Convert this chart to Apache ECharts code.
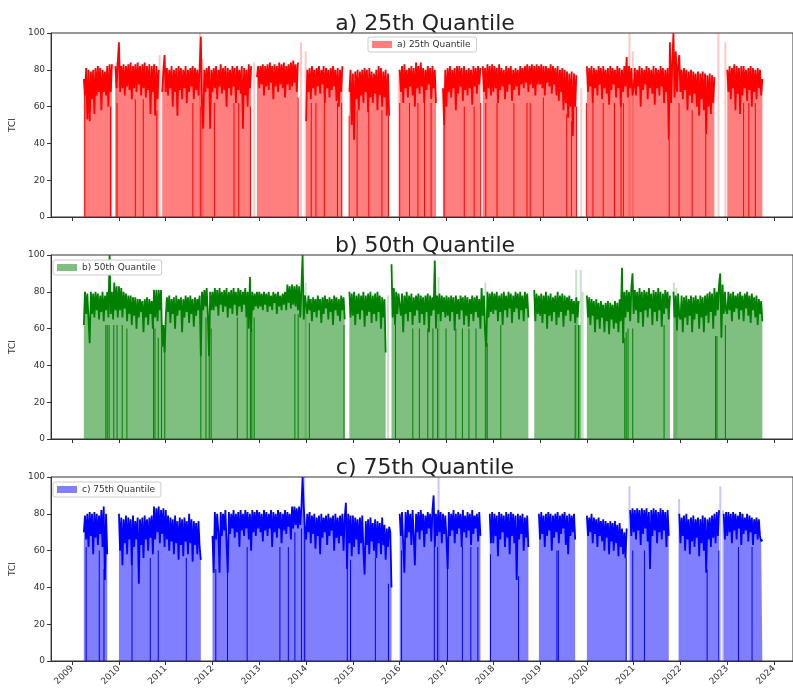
<!DOCTYPE html>
<html><head><meta charset="utf-8">
<script src="https://cdn.jsdelivr.net/npm/echarts@6/dist/echarts.min.js"></script>
<style>html,body{margin:0;padding:0;background:#fff}#c{width:793px;height:691px}</style>
</head><body><div id="c"></div>
<script>
// sample date of value i = START_YEAR + i*STEP (fractional years); rows = one calendar year
const START_YEAR = 2009.25;
const STEP = 0.025;
const yearTicks = [2009,2010,2011,2012,2013,2014,2015,2016,2017,2018,2019,2020,2021,2022,2023,2024];
const titles = ['a) 25th Quantile','b) 50th Quantile','c) 75th Quantile'];

const q25 = [
 75,66,81,53,80,52,79,64,80,56,81,66,82,68,81,58,80,68,79,66,82,60,83,68,83,null,null,82,70,84,
 95,68,82,70,83,66,82,71,83,69,84,64,82,70,83,68,84,72,82,66,83,70,84,65,82,69,83,56,82,68,83,55,82,64,80,null,null,68,80,88,
 68,81,66,80,70,82,60,80,68,81,55,82,69,81,64,80,70,82,62,80,68,81,71,82,64,81,69,80,66,81,98,62,48,80,68,81,70,82,48,80,
 68,81,70,82,64,80,71,83,67,81,69,82,60,81,70,80,66,82,71,81,62,82,69,80,67,82,48,81,66,80,60,83,70,82,null,null,null,null,76,82,
 70,82,72,83,66,82,71,83,69,84,73,82,64,83,71,82,68,84,72,83,70,84,65,82,72,83,69,84,71,85,73,83,68,84,null,null,null,null,null,null,
 52,80,68,81,64,82,70,80,66,81,71,82,67,80,72,82,62,81,70,80,65,81,69,82,71,80,63,81,60,80,68,82,null,null,null,null,null,68,80,50,
 78,42,79,64,80,58,79,66,80,62,81,68,80,57,81,65,79,62,78,67,80,58,82,66,81,60,79,65,80,55,78,55,null,null,null,null,null,null,null,null,
 80,68,82,62,83,70,80,65,81,71,82,66,81,60,84,70,82,67,84,71,81,62,80,69,82,72,81,64,82,70,80,62,null,null,null,null,null,70,50,80,
 60,81,68,82,65,80,70,81,58,82,67,82,71,81,63,82,69,80,66,81,70,80,61,82,71,81,67,82,72,81,null,82,68,81,64,83,70,82,66,83,
 68,82,70,81,62,83,69,81,71,80,64,82,68,81,72,82,63,80,69,81,71,80,66,82,72,81,70,82,73,83,68,82,72,83,70,82,66,83,72,82,
 72,83,70,82,66,82,73,81,71,83,67,82,72,81,66,82,63,80,68,81,58,80,62,79,54,78,60,79,44,78,60,77,null,null,null,null,null,null,null,null,
 82,68,81,71,82,62,81,70,80,66,82,72,81,64,82,70,80,67,81,61,82,69,81,72,80,65,82,70,81,60,80,68,82,71,87,65,82,70,81,66,
 70,81,66,80,71,82,60,81,69,80,72,82,64,81,70,80,67,82,61,81,70,80,66,82,71,81,62,80,68,81,42,95,62,84,100,65,90,68,82,88,
 68,80,64,81,69,80,58,79,66,80,62,79,67,78,60,79,55,78,64,79,58,78,45,77,60,78,56,77,62,76,null,null,null,null,null,null,null,null,null,null,
 80,68,82,64,81,70,83,58,82,67,81,56,82,66,82,70,80,63,81,69,82,60,81,68,80,64,81,70,80,66,75
];
const q50 = [
 62,80,68,79,65,52,80,68,79,66,80,70,79,65,78,69,80,64,78,70,80,66,100,68,80,65,85,70,83,66,
 83,70,82,66,80,71,79,64,78,68,78,62,77,67,77,60,76,66,76,69,75,58,76,66,77,62,76,68,75,60,81,66,81,64,81,70,81,50,62,47,
 66,77,69,78,63,76,68,77,60,78,67,76,70,77,58,76,66,78,69,77,63,78,68,76,61,77,67,76,70,78,45,80,70,81,72,82,68,45,80,70,
 80,70,82,72,81,67,82,73,80,69,81,72,82,66,80,71,81,68,82,73,80,67,82,72,81,69,80,73,82,66,80,60,88,58,80,70,79,72,80,71,
 80,72,79,70,80,73,79,69,80,72,78,70,80,74,79,68,80,72,78,70,79,73,80,70,84,74,83,71,84,73,83,72,84,70,83,66,82,100,65,78,
 77,68,78,70,76,64,77,69,76,66,78,70,76,63,77,68,78,71,76,65,77,69,76,62,78,70,77,67,76,64,78,70,77,65,null,null,null,80,66,79,
 67,80,62,78,68,79,65,78,70,80,61,78,67,79,69,80,63,78,68,79,64,80,69,78,60,77,66,76,47,null,null,null,null,95,66,82,62,80,68,79,
 80,67,79,58,78,68,80,64,78,69,79,62,77,67,78,70,79,63,78,68,77,62,78,69,79,58,78,67,77,70,97,60,78,68,79,64,78,69,77,66,
 78,67,77,64,78,69,77,59,78,68,76,65,78,70,77,62,78,67,77,61,76,68,78,64,77,69,78,66,76,60,82,67,78,58,50,80,66,79,69,80,
 68,79,70,80,64,78,69,79,62,80,70,78,66,80,71,79,63,78,69,80,71,79,65,80,70,78,64,80,71,79,66,null,null,null,null,81,64,79,68,78,
 67,79,63,78,68,80,60,78,67,79,64,77,69,78,62,80,66,78,69,79,61,78,67,77,70,78,64,76,68,75,63,77,66,75,null,null,null,null,null,null,
 78,66,77,62,76,67,75,58,76,65,74,60,75,66,73,58,74,64,75,57,74,65,73,60,75,63,74,58,76,64,93,52,80,66,81,69,80,64,82,90,
 68,81,70,80,63,82,69,80,61,81,70,80,66,82,71,79,62,81,69,80,64,82,70,80,61,79,68,81,71,80,65,78,null,null,80,66,78,59,79,67,
 65,78,58,77,66,78,62,76,67,78,58,77,65,78,68,76,60,78,66,77,58,78,67,79,63,80,69,79,60,82,67,80,70,84,90,55,84,68,80,70,
 68,80,70,79,64,80,69,78,71,79,65,80,70,78,64,79,71,80,67,78,63,79,70,77,66,78,62,76,68,75,64
];
const q75 = [
 70,79,66,80,62,81,68,80,58,81,67,80,63,79,69,82,62,84,44,80,58,null,null,null,null,null,null,null,null,null,
 80,60,78,52,77,64,79,58,78,66,77,52,79,62,76,66,78,42,77,63,78,56,79,66,77,60,78,67,79,58,84,66,83,70,84,64,82,69,83,62,
 82,66,79,60,78,65,77,58,79,64,76,55,78,63,77,57,78,65,76,58,80,64,77,54,76,63,75,58,76,62,55,null,null,null,null,null,null,null,null,null,
 68,48,81,66,80,70,48,81,68,80,71,82,64,48,81,69,80,72,82,67,80,70,81,62,82,71,80,68,82,72,81,66,80,60,82,70,81,68,82,72,
 81,70,80,65,82,71,81,68,80,72,82,62,81,70,80,67,82,72,81,64,80,71,82,69,81,73,80,66,84,72,84,74,83,72,84,74,84,100,84,72,
 66,80,70,81,64,79,69,80,61,78,68,79,58,80,67,78,70,79,63,80,68,78,71,79,60,80,67,78,64,79,68,80,60,78,86,50,80,64,79,57,
 79,62,78,66,77,58,78,64,79,60,47,76,63,77,58,78,65,75,60,77,56,76,64,75,58,78,63,74,55,72,62,73,70,40,null,null,null,null,null,null,
 80,68,81,64,48,81,67,82,70,80,63,82,68,52,80,70,81,66,82,71,80,62,79,69,81,72,80,65,82,90,62,80,68,82,70,81,64,80,69,79,
 66,50,81,68,80,71,82,64,80,69,81,72,80,62,82,70,79,67,81,71,80,63,82,69,79,72,80,65,81,68,null,null,null,null,null,null,null,80,64,81,
 64,80,68,79,57,81,66,80,70,79,62,81,67,80,58,81,68,80,64,79,44,80,66,79,69,80,60,78,67,79,62,null,null,null,null,null,null,null,null,80,
 66,81,69,79,62,80,68,81,71,80,60,79,67,80,70,81,64,79,69,80,72,81,63,79,58,80,68,79,70,80,66,null,null,null,null,null,null,null,null,null,
 79,68,78,70,80,64,78,69,77,62,78,68,76,65,77,60,76,67,75,58,76,65,75,60,76,64,74,57,75,62,72,58,70,56,72,null,null,82,68,83,
 70,82,66,83,71,82,63,83,69,82,72,83,65,81,50,82,68,83,71,82,64,81,70,83,66,82,71,81,62,82,68,null,null,null,null,null,null,null,null,80,
 64,78,68,79,60,80,66,77,58,78,65,79,62,77,67,78,57,77,64,79,60,78,48,77,66,78,62,79,67,80,64,81,68,82,null,null,null,80,66,81,
 68,81,70,80,64,81,71,80,66,79,72,81,63,80,69,78,71,80,65,79,70,78,63,77,69,78,66,77,68,65,66
];

// single-day drops to zero: [year, level]
const drops25 = [[2009.27,75],[2009.82,60],[2009.96,62],[2010.35,64],[2010.52,64],[2010.81,58],[2011.58,62],[2011.75,60],[2012.04,62],[2012.46,62],[2012.56,62],[2012.81,60],[2013.83,65],[2014.11,62],[2014.21,62],[2014.39,62],[2014.67,62],[2014.76,62],[2014.92,55],[2015.09,58],[2015.34,58],[2015.62,58],[2015.76,55],[2016.0,62],[2016.21,62],[2016.39,62],[2016.53,62],[2016.67,62],[2016.95,50],[2017.38,60],[2017.59,60],[2017.73,62],[2017.84,62],[2018.08,62],[2018.44,62],[2018.72,62],[2018.79,62],[2019.07,65],[2019.57,56],[2019.67,52],[2019.78,60],[2019.99,62],[2020.13,62],[2020.35,62],[2020.59,62],[2020.73,62],[2020.78,62],[2021.76,42],[2021.97,62],[2022.25,58],[2022.54,45],[2023.35,62],[2023.46,62],[2023.6,62]];
const drops50 = [[2009.72,62],[2009.75,62],[2009.79,62],[2009.89,62],[2009.96,62],[2010.07,62],[2010.17,60],[2010.74,62],[2010.77,60],[2010.84,55],[2010.91,50],[2010.98,60],[2011.75,60],[2011.86,66],[2011.93,50],[2011.97,60],[2012.53,66],[2012.74,66],[2012.81,60],[2012.84,60],[2012.89,66],[2013.76,68],[2013.83,68],[2014.07,63],[2014.81,62],[2015.91,62],[2016.28,60],[2016.42,60],[2016.6,60],[2016.71,60],[2016.81,60],[2016.99,60],[2017.2,60],[2017.34,60],[2017.48,60],[2017.63,60],[2017.84,58],[2017.87,52],[2018.16,62],[2019.75,62],[2019.82,62],[2019.85,62],[2020.81,55],[2020.84,58],[2020.88,60],[2020.98,60],[2021.65,62],[2022.75,56],[2022.78,56],[2022.96,62]];
const drops75 = [[2009.3,62],[2009.58,60],[2009.68,50],[2010.28,55],[2010.67,56],[2010.84,60],[2011.44,56],[2012.07,50],[2012.32,50],[2012.74,62],[2013.44,62],[2013.62,62],[2013.76,70],[2013.9,72],[2013.97,72],[2014.88,55],[2014.95,55],[2015.48,56],[2015.76,42],[2016.04,60],[2016.74,62],[2016.81,62],[2017.02,52],[2017.34,62],[2017.52,62],[2017.67,62],[2017.94,58],[2018.54,46],[2019.36,60],[2019.39,60],[2020.84,56],[2020.98,60],[2021.23,60],[2022.57,50],[2022.82,60],[2023.24,62],[2023.53,62]];

// isolated faint spikes: [year, value]
const faint25 = [[2009.93,84],[2010.86,88],[2011.72,100],[2011.78,86],[2012.88,84],[2013.88,95],[2013.98,90],[2015.97,80],[2019.87,70],[2020.9,100],[2020.97,90],[2022.8,100],[2022.95,95]];
const faint50 = [[2013.98,85],[2015.74,78],[2016.82,88],[2017.82,85],[2019.76,92],[2019.86,92],[2019.9,80],[2021.85,85],[2021.9,82]];
const faint75 = [[2013.95,100],[2016.82,100],[2020.9,95],[2021.96,88],[2022.84,95],[2022.9,82]];

const panels = [
  {name: titles[0], vals: q25, drops: drops25, faint: faint25, color: '#ff0000', fill: 'rgba(255,0,0,0.5)', faintColor: 'rgba(255,0,0,0.22)', top: 33, titleTop: 8, legend: {left: 368, top: 37}},
  {name: titles[1], vals: q50, drops: drops50, faint: faint50, color: '#008000', fill: 'rgba(0,128,0,0.5)', faintColor: 'rgba(0,128,0,0.22)', top: 255, titleTop: 230, legend: {left: 53, top: 260}},
  {name: titles[2], vals: q75, drops: drops75, faint: faint75, color: '#0000ff', fill: 'rgba(0,0,255,0.5)', faintColor: 'rgba(0,0,255,0.22)', top: 477, titleTop: 452, legend: {left: 53, top: 482}}
];

const toPairs = arr => arr.map((v, i) => [+(START_YEAR + i * STEP).toFixed(4), v === null ? '-' : v]);

const AX = '#333';
const option = {
  animation: false,
  textStyle: {fontFamily: 'DejaVu Sans'},
  title: panels.map(p => ({
    text: p.name, left: 420, top: p.titleTop, textAlign: 'center',
    textStyle: {fontSize: 22, fontWeight: 'normal', color: '#222', fontFamily: 'DejaVu Sans'}
  })),
  legend: panels.map(p => ({
    data: [{name: p.name, itemStyle: {color: p.fill, borderWidth: 0}}],
    left: p.legend.left, top: p.legend.top, icon: 'rect', itemWidth: 20, itemHeight: 7,
    textStyle: {fontSize: 9, color: '#333', fontFamily: 'DejaVu Sans'},
    backgroundColor: '#fff', borderColor: '#ccc', borderWidth: 1, borderRadius: 2,
    padding: [3, 6, 3, 4], selectedMode: false
  })),
  grid: panels.map(p => ({left: 48, width: 752, top: p.top, height: 184, show: true, borderColor: AX, borderWidth: 1, backgroundColor: 'transparent'})),
  xAxis: panels.map((p, k) => ({
    type: 'value', gridIndex: k, min: 2008.55, max: 2024.405, splitLine: {show: false},
    axisLine: {show: true, lineStyle: {color: AX}},
    axisTick: {show: true, customValues: yearTicks, length: 4, lineStyle: {color: AX}},
    axisLabel: {show: k === 2, customValues: yearTicks, rotate: 45, fontSize: 9, color: '#333', margin: 6, formatter: v => String(v)}
  })),
  yAxis: panels.map((p, k) => ({
    type: 'value', gridIndex: k, min: 0, max: 100, interval: 20,
    name: 'TCI', nameLocation: 'middle', nameGap: 27, nameTextStyle: {fontSize: 9, color: '#333'},
    axisLine: {show: true, lineStyle: {color: AX}},
    axisTick: {show: true, length: 4, lineStyle: {color: AX}},
    axisLabel: {fontSize: 9, color: '#333', margin: 6},
    splitLine: {show: false}
  })),
  series: panels.flatMap((p, k) => [
    {type: 'bar', name: p.name + ' spikes', xAxisIndex: k, yAxisIndex: k, data: p.faint, barWidth: 2, barGap: '-100%', itemStyle: {color: p.faintColor}, silent: true, z: 1},
    {type: 'line', name: p.name, xAxisIndex: k, yAxisIndex: k, data: toPairs(p.vals), showSymbol: false, symbol: 'none', connectNulls: false,
     lineStyle: {color: p.color, width: 1.8, join: 'bevel'}, itemStyle: {color: p.color}, areaStyle: {color: p.fill, opacity: 1}, silent: true, z: 3},
    {type: 'bar', name: p.name + ' drops', xAxisIndex: k, yAxisIndex: k, data: p.drops, barWidth: 1, barGap: '-100%', itemStyle: {color: p.color}, silent: true, z: 4}
  ])
};
const chart = echarts.init(document.getElementById('c'));
chart.setOption(option);
</script></body></html>
